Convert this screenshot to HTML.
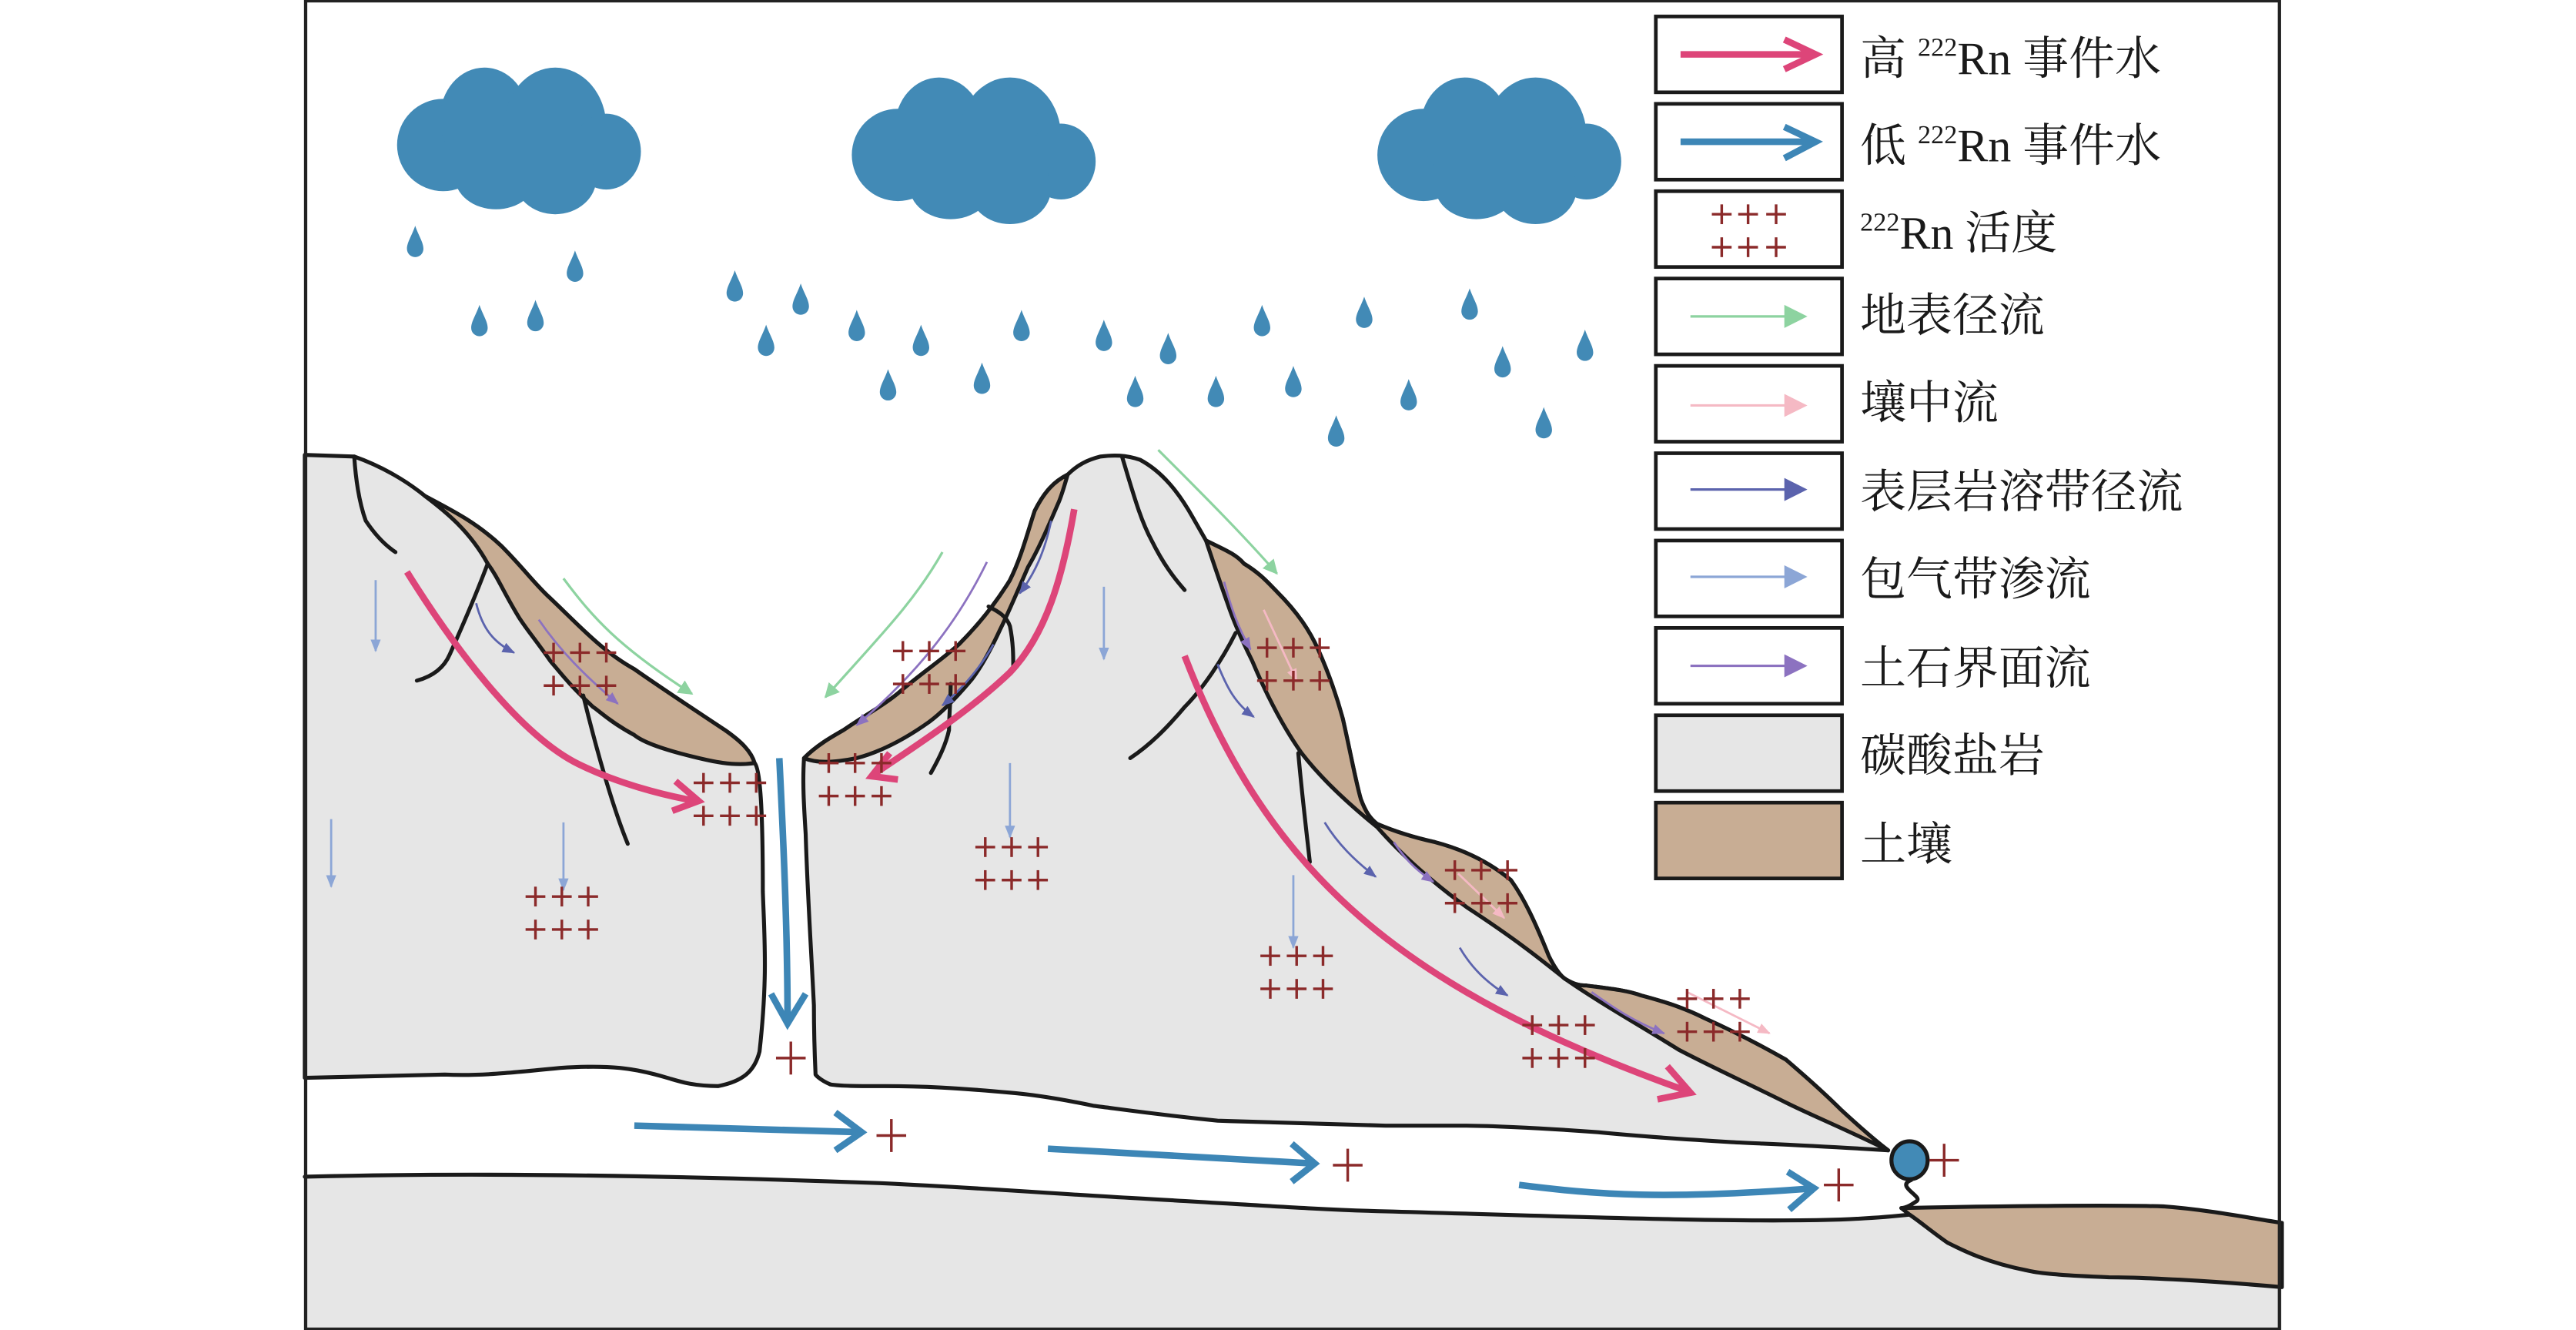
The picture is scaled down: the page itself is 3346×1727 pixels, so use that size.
<!DOCTYPE html>
<html><head><meta charset="utf-8"><style>
html,body{margin:0;padding:0;background:#fff;}
svg{display:block;}
text{font-family:"Liberation Serif","Noto Serif CJK SC",serif;fill:#1a1a1a;}
</style></head><body>
<svg width="3346" height="1727" viewBox="0 0 1563.5 807" preserveAspectRatio="none" xmlns="http://www.w3.org/2000/svg">
<defs>
<g id="cloud" fill="#428ab6">
<ellipse cx="-46" cy="2" rx="28" ry="28"/>
<ellipse cx="-21" cy="-14" rx="27" ry="31"/>
<ellipse cx="22" cy="-9" rx="31" ry="36"/>
<ellipse cx="53" cy="6" rx="21" ry="23"/>
<ellipse cx="-14" cy="21" rx="25" ry="20"/>
<ellipse cx="22" cy="22" rx="25" ry="22"/>
<rect x="-40" y="-10" width="85" height="30"/>
</g>
<path id="drop" d="M0,-10 C2,-4 5,0 5,4 A5,5 0 0 1 -5,4 C-5,0 -2,-4 0,-10 Z" fill="#428ab6"/>
<g id="p" stroke="#8b2a2a" stroke-width="1.6"><line x1="-6" y1="0" x2="6" y2="0"/><line x1="0" y1="-6" x2="0" y2="6"/></g>
<g id="pp"><use href="#p" x="0" y="0"/><use href="#p" x="16" y="0"/><use href="#p" x="32" y="0"/><use href="#p" x="0" y="20"/><use href="#p" x="16" y="20"/><use href="#p" x="32" y="20"/></g>
<g id="bp" stroke="#8b2a2a" stroke-width="1.6"><line x1="-9" y1="0" x2="9" y2="0"/><line x1="0" y1="-10" x2="0" y2="10"/></g>
<marker id="mg" viewBox="0 0 10 10" refX="9" refY="5" markerWidth="6" markerHeight="6" orient="auto" markerUnits="strokeWidth"><path d="M0,0 L10,5 L0,10Z" fill="#8dd3a0"/></marker>
<marker id="ml" viewBox="0 0 10 10" refX="9" refY="5" markerWidth="6" markerHeight="6" orient="auto" markerUnits="strokeWidth"><path d="M0,1 L10,5 L0,9Z" fill="#8ca6d6"/></marker>
<marker id="md" viewBox="0 0 10 10" refX="9" refY="5" markerWidth="6" markerHeight="6" orient="auto" markerUnits="strokeWidth"><path d="M0,1 L10,5 L0,9Z" fill="#5b63ad"/></marker>
<marker id="mp" viewBox="0 0 10 10" refX="9" refY="5" markerWidth="6" markerHeight="6" orient="auto" markerUnits="strokeWidth"><path d="M0,1 L10,5 L0,9Z" fill="#8c72c0"/></marker>
<marker id="mk" viewBox="0 0 10 10" refX="9" refY="5" markerWidth="6" markerHeight="6" orient="auto" markerUnits="strokeWidth"><path d="M0,1 L10,5 L0,9Z" fill="#f5b9c4"/></marker>
</defs>

<use href="#cloud" x="315" y="86"/>
<use href="#cloud" x="591" y="92"/>
<use href="#cloud" x="910" y="92"/>
<g>
<use href="#drop" x="252" y="147"/><use href="#drop" x="349" y="162"/><use href="#drop" x="291" y="195"/><use href="#drop" x="325" y="192"/>
<use href="#drop" x="446" y="174"/><use href="#drop" x="486" y="182"/><use href="#drop" x="465" y="207"/><use href="#drop" x="520" y="198"/>
<use href="#drop" x="559" y="207"/><use href="#drop" x="539" y="234"/><use href="#drop" x="596" y="230"/><use href="#drop" x="620" y="198"/>
<use href="#drop" x="670" y="204"/><use href="#drop" x="709" y="212"/><use href="#drop" x="689" y="238"/><use href="#drop" x="738" y="238"/>
<use href="#drop" x="766" y="195"/><use href="#drop" x="785" y="232"/><use href="#drop" x="828" y="190"/><use href="#drop" x="855" y="240"/>
<use href="#drop" x="811" y="262"/><use href="#drop" x="892" y="185"/><use href="#drop" x="912" y="220"/><use href="#drop" x="937" y="257"/><use href="#drop" x="962" y="210"/>
</g>

<g stroke="#1a1a1a" stroke-width="2.4" stroke-linejoin="round" stroke-linecap="round">
<path d="M185,714 L334,712 L537,718 L689,727 L841,735 L888,736 L1117,740 L1159,738 L1182,754 L1231,771 L1280,775 L1385,781 L1385,807 L185,807 Z" fill="#e6e6e6" stroke="none"/>
<path d="M185,714 C300,711 430,714 537,718 C600,721 650,725 689,727 C760,731 800,734 841,735 C950,738 1050,742 1117,740 C1140,739 1150,738 1159,737" fill="none"/>
<path d="M1154,733 C1200,732 1280,731 1313,732 C1340,734 1365,739 1385,742 L1385,781 C1340,777 1300,775 1280,775 C1255,774 1240,773 1231,771 C1205,766 1190,758 1182,754 C1172,747 1165,741 1159,737 Z" fill="#c8ad94"/>
<path d="M1160,716 C1150,720 1168,726 1163,729 C1160,731 1157,733 1154,733" fill="none"/>

<path d="M185,276 L215,277 C232,283 247,292 258,301 C275,310 289,317 304,331 C318,345 325,355 334,363 C350,378 365,395 385,406 C405,420 425,433 440,443 C450,450 456,456 458,463 C462,467 463,500 463,541 C464,570 466,593 461,638 C458,650 451,656 436,659 C420,659 412,656 405,654 C385,648 370,646 340,648 C310,651 290,653 270,652 L185,654 Z" fill="#e6e6e6"/>
<path d="M258,301 C275,310 289,317 304,331 C318,345 325,355 334,363 C350,378 365,395 385,406 C405,420 425,433 440,443 C450,450 456,456 458,463 C445,465 432,462 420,459 C400,454 390,450 385,446 C370,438 362,430 360,429 C345,415 340,408 334,401 C325,388 318,380 314,373 C305,358 302,350 296,342 C285,322 270,310 258,301 Z" fill="#c8ad94"/>
<path d="M215,277 C216,292 218,305 222,316 C228,325 234,331 240,335" fill="none"/>
<path d="M253,413 C264,410 270,404 273,397 C282,377 290,358 296,342" fill="none"/>
<path d="M354,422 C362,455 372,490 381,512" fill="none"/>

<path d="M488,460 C496,452 505,447 512,443 C525,434 538,427 547,419 C560,408 572,400 582,391 C595,378 605,365 613,352 C620,338 624,322 628,310 C634,298 640,292 648,288 C654,282 660,279 668,277 C676,276 683,276 692,279 C705,286 715,298 724,314 L732,328 C742,333 750,336 755,342 C765,348 770,354 775,359 C788,372 795,383 800,394 C808,412 812,425 815,436 C820,458 823,475 826,485 C829,493 832,497 836,500 C850,506 862,509 871,511 C890,516 905,524 917,534 C925,545 932,560 940,580 C944,588 947,592 950,594 C955,597 958,598 963,598 C978,600 988,601 996,604 C1015,609 1025,613 1035,618 C1055,627 1070,635 1084,643 C1098,655 1110,666 1117,673 C1130,685 1138,692 1146,698 C1100,695 1070,694 1051,693 C1000,690 980,688 970,687 C930,684 900,683 888,683 C860,683 845,683 841,683 C800,682 770,681 739,680 C700,676 680,673 664,671 C640,666 625,664 613,663 C580,660 560,659 537,659 C520,659 510,659 504,658 C497,655 495,652 495,652 C494,630 494,620 494,610 C492,570 490,540 489,506 C488,490 487,475 488,460 Z" fill="#e6e6e6"/>
<path d="M488,460 C496,452 505,447 512,443 C525,434 538,427 547,419 C560,408 572,400 582,391 C595,378 605,365 613,352 C620,338 624,322 628,310 C634,298 640,292 648,288 C646,295 644,302 642,306 C636,320 630,334 624,344 C617,360 612,372 607,382 C601,395 596,404 590,412 C580,424 572,432 564,438 C550,448 535,456 520,460 C505,463 495,463 488,460 Z" fill="#c8ad94"/>
<path d="M732,328 C742,333 750,336 755,342 C765,348 770,354 775,359 C788,372 795,383 800,394 C808,412 812,425 815,436 C820,458 823,475 826,485 C829,493 832,497 836,502 C815,485 800,470 790,457 C778,440 768,420 760,401 C752,385 748,375 745,366 C740,352 736,340 732,328 Z" fill="#c8ad94"/>
<path d="M836,500 C850,506 862,509 871,511 C890,516 905,524 917,534 C925,545 932,560 940,580 C944,588 947,592 950,594 C935,582 920,570 891,551 C870,536 850,518 836,502 Z" fill="#c8ad94"/>
<path d="M950,594 C955,597 958,598 963,598 C978,600 988,601 996,604 C1015,609 1025,613 1035,618 C1055,627 1070,635 1084,643 C1098,655 1110,666 1117,673 C1130,685 1138,692 1146,698 C1120,685 1100,677 1084,669 C1060,657 1040,648 1019,637 C995,622 970,608 950,594 Z" fill="#c8ad94"/>
<path d="M681,277 C688,300 692,315 699,328 C706,342 712,350 719,358" fill="none"/>
<path d="M600,368 C606,371 611,374 613,380 C615,390 615,398 615,405" fill="none"/>
<path d="M577,415 C577,425 576,435 576,443 C574,452 570,460 565,469" fill="none"/>
<path d="M750,384 C742,400 730,418 719,429 C708,442 698,452 686,460" fill="none"/>
<path d="M788,457 C790,480 793,505 795,523" fill="none"/>
</g>
<ellipse cx="1159" cy="704" rx="11" ry="11.5" fill="#428ab6" stroke="#1a1a1a" stroke-width="2.4"/>

<g fill="none" stroke="#8dd3a0" stroke-width="1.5">
<path d="M342,351 C360,375 375,392 420,421" marker-end="url(#mg)"/>
<path d="M572,335 C555,365 535,385 501,423" marker-end="url(#mg)"/>
<path d="M703,273 C730,300 755,325 775,348" marker-end="url(#mg)"/>
</g>
<g stroke="#8ca6d6" stroke-width="1.3" fill="none">
<line x1="228" y1="352" x2="228" y2="395" marker-end="url(#ml)"/>
<line x1="201" y1="497" x2="201" y2="538" marker-end="url(#ml)"/>
<line x1="342" y1="499" x2="342" y2="540" marker-end="url(#ml)"/>
<line x1="670" y1="356" x2="670" y2="400" marker-end="url(#ml)"/>
<line x1="613" y1="463" x2="613" y2="508" marker-end="url(#ml)"/>
<line x1="785" y1="531" x2="785" y2="575" marker-end="url(#ml)"/>
</g>
<g stroke="#5b63ad" stroke-width="1.3" fill="none">
<path d="M289,366 C293,382 300,390 312,396" marker-end="url(#md)"/>
<path d="M638,316 C634,335 628,348 619,360" marker-end="url(#md)"/>
<path d="M603,391 C595,405 585,417 572,428" marker-end="url(#md)"/>
<path d="M739,403 C745,418 750,427 761,435" marker-end="url(#md)"/>
<path d="M804,499 C812,512 822,522 835,532" marker-end="url(#md)"/>
<path d="M886,575 C893,587 902,596 915,604" marker-end="url(#md)"/>
</g>
<g stroke="#8c72c0" stroke-width="1.3" fill="none">
<path d="M327,376 C340,395 355,410 375,427" marker-end="url(#mp)"/>
<path d="M599,341 C580,380 555,410 520,440" marker-end="url(#mp)"/>
<path d="M743,353 C747,368 751,380 759,394" marker-end="url(#mp)"/>
<path d="M846,511 C852,520 858,527 870,535" marker-end="url(#mp)"/>
<path d="M966,602 C980,612 992,620 1010,627" marker-end="url(#mp)"/>
</g>
<g stroke="#f5b9c4" stroke-width="1.3" fill="none">
<line x1="767" y1="370" x2="787" y2="413" marker-end="url(#mk)"/>
<line x1="885" y1="530" x2="913" y2="557" marker-end="url(#mk)"/>
<line x1="1024" y1="602" x2="1074" y2="627" marker-end="url(#mk)"/>
</g>

<g stroke="#dd4579" stroke-width="4" fill="none">
<path d="M247,347 C280,400 320,450 354,465 C375,475 400,482 422,486"/>
<path d="M410,474 L424,486 L408,492"/>
<path d="M652,309 C645,350 635,385 613,408 C590,430 560,450 530,470"/>
<path d="M540,457 L529,471 L545,473"/>
<path d="M719,398 C770,530 850,600 1024,662"/>
<path d="M1012,647 L1026,663 L1006,667"/>
</g>
<g stroke="#3d86b6" stroke-width="4" fill="none">
<path d="M473,460 C476,520 478,570 478,620"/>
<path d="M468,603 L478,621 L489,603"/>
<path d="M385,683 L523,687"/>
<path d="M507,675 L523,687 L507,698"/>
<path d="M636,697 L798,706"/>
<path d="M784,694 L798,706 L784,717"/>
<path d="M922,719 C970,725 1010,728 1101,721"/>
<path d="M1085,711 L1101,721 L1086,734"/>
</g>

<use href="#pp" x="336" y="396"/>
<use href="#pp" x="427" y="475"/>
<use href="#pp" x="325" y="544"/>
<use href="#pp" x="503" y="463"/>
<use href="#pp" x="548" y="395"/>
<use href="#pp" x="598" y="514"/>
<use href="#pp" x="769" y="393"/>
<use href="#pp" x="883" y="528"/>
<use href="#pp" x="771" y="580"/>
<use href="#pp" x="930" y="622"/>
<use href="#pp" x="1024" y="606"/>
<use href="#bp" x="480" y="642"/>
<use href="#bp" x="541" y="689"/>
<use href="#bp" x="818" y="707"/>
<use href="#bp" x="1116" y="719"/>
<use href="#bp" x="1180" y="704"/>

<rect x="185.5" y="0.5" width="1198" height="806" fill="none" stroke="#222" stroke-width="2"/>

<g stroke="#1a1a1a" stroke-width="2.2" fill="#fff">
<rect x="1005" y="10" width="113" height="46"/>
<rect x="1005" y="63" width="113" height="46"/>
<rect x="1005" y="116" width="113" height="46"/>
<rect x="1005" y="169" width="113" height="46"/>
<rect x="1005" y="222" width="113" height="46"/>
<rect x="1005" y="275" width="113" height="46"/>
<rect x="1005" y="328" width="113" height="46"/>
<rect x="1005" y="381" width="113" height="46"/>
<rect x="1005" y="434" width="113" height="46" fill="#e6e6e6"/>
<rect x="1005" y="487" width="113" height="46" fill="#c8ad94"/>
</g>
<g stroke-width="4" fill="none">
<path d="M1020,33 L1102,33 M1083,24 L1102,33 L1083,42" stroke="#dd4579"/>
<path d="M1020,86 L1102,86 M1083,77 L1102,86 L1083,96" stroke="#3d86b6"/>
</g>
<use href="#p" x="1045" y="130"/><use href="#p" x="1061" y="130"/><use href="#p" x="1078" y="130"/>
<use href="#p" x="1045" y="150"/><use href="#p" x="1061" y="150"/><use href="#p" x="1078" y="150"/>
<g stroke-width="1.5">
<line x1="1026" y1="192" x2="1085" y2="192" stroke="#8dd3a0"/><path d="M1083,185 L1097,192 L1083,199Z" fill="#8dd3a0"/>
<line x1="1026" y1="246" x2="1085" y2="246" stroke="#f5b9c4"/><path d="M1083,239 L1097,246 L1083,253Z" fill="#f5b9c4"/>
<line x1="1026" y1="297" x2="1085" y2="297" stroke="#5b63ad"/><path d="M1083,290 L1097,297 L1083,304Z" fill="#5b63ad"/>
<line x1="1026" y1="350" x2="1085" y2="350" stroke="#8ca6d6"/><path d="M1083,343 L1097,350 L1083,357Z" fill="#8ca6d6"/>
<line x1="1026" y1="404" x2="1085" y2="404" stroke="#8c72c0"/><path d="M1083,397 L1097,404 L1083,411Z" fill="#8c72c0"/>
</g>
<g font-size="28">
<text x="1129" y="45">高 <tspan font-size="16" dy="-11">222</tspan><tspan dy="11">Rn 事件水</tspan></text>
<text x="1129" y="98">低 <tspan font-size="16" dy="-11">222</tspan><tspan dy="11">Rn 事件水</tspan></text>
<text x="1129" y="151"><tspan font-size="16" dy="-11">222</tspan><tspan dy="11">Rn 活度</tspan></text>
<text x="1129" y="201">地表径流</text>
<text x="1129" y="254">壤中流</text>
<text x="1129" y="308">表层岩溶带径流</text>
<text x="1129" y="361">包气带渗流</text>
<text x="1129" y="415">土石界面流</text>
<text x="1129" y="468">碳酸盐岩</text>
<text x="1129" y="522">土壤</text>
</g>
</svg>
</body></html>
